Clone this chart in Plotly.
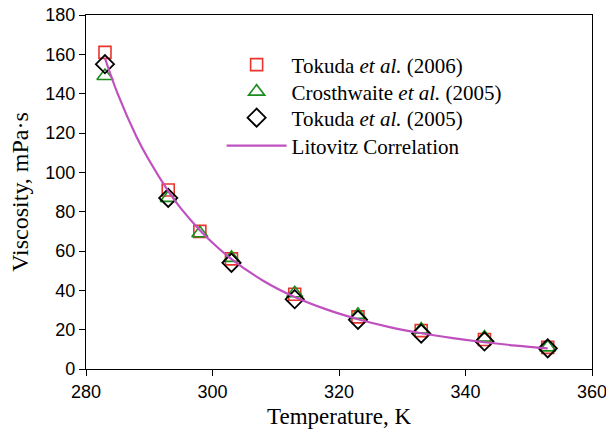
import plotly.graph_objects as go

# Temperatures (K)
T_tok06 = [283, 293, 298, 303, 313, 323, 333, 343, 353]
eta_tok06 = [161, 91, 70, 56, 38, 26.5, 19.5, 15, 11]

T_cros = [283, 293, 298, 303, 313, 323, 333, 343, 353]
eta_cros = [149, 87, 69, 56.5, 38.5, 27.5, 20, 16, 11]

T_tok05 = [283, 293, 303, 313, 323, 333, 343, 353]
eta_tok05 = [155, 87, 54, 35.5, 25, 18, 14, 10.5]

# Litovitz correlation curve
T_lit = [283, 285, 288, 290, 293, 295, 298, 300, 303, 308, 313, 318, 323, 328, 333, 338, 343, 348, 353]
eta_lit = [158, 140, 118, 106, 90.5, 81.7, 70.6, 64.2, 55.9, 44.9, 36.6, 30.3, 25.3, 21.3, 18.2, 15.7, 13.6, 11.9, 10.5]

x_ticks = [280, 300, 320, 340, 360]
y_ticks = [0, 20, 40, 60, 80, 100, 120, 140, 160, 180]

serif = "Liberation Serif, Times New Roman"
sans = "Liberation Sans, Arial"

fig = go.Figure()
fig.add_trace(go.Scatter(
    x=T_tok06, y=eta_tok06, mode="markers", name="Tokuda <i>et al.</i> (2006)", legend="legend2",
    marker=dict(symbol="square-open", size=12, color="#e8342c", line=dict(width=1.6))))
fig.add_trace(go.Scatter(
    x=T_cros, y=eta_cros, mode="markers", name="Crosthwaite <i>et al.</i> (2005)", legend="legend3",
    marker=dict(symbol="triangle-up-open", size=14, color="#1b8c1b", line=dict(width=1.6))))
fig.add_trace(go.Scatter(
    x=T_tok05, y=eta_tok05, mode="markers", name="Tokuda <i>et al.</i> (2005)", legend="legend4",
    marker=dict(symbol="diamond-open", size=14, color="black", line=dict(width=1.8))))
fig.add_trace(go.Scatter(
    x=T_lit, y=eta_lit, mode="lines", name="Litovitz Correlation", line_shape="spline", legend="legend5",
    line=dict(color="#c050c0", width=2.2)))

axis_common = dict(showline=True, linecolor="black", linewidth=1.2, mirror=True,
                   showgrid=False, zeroline=False, ticks="outside", ticklen=6, automargin=False,
                   tickcolor="black", tickfont=dict(family=sans, size=18, color="black"))

fig.update_xaxes(range=[280, 360], tickvals=x_ticks, ticklabeloverflow="allow",
                 title=dict(text="Temperature, K", font=dict(family=serif, size=23, color="black"), standoff=7),
                 **axis_common)
fig.update_yaxes(range=[0, 180], tickvals=y_ticks,
                 title=dict(text="Viscosity, mPa·s", font=dict(family=serif, size=24, color="black"), standoff=9),
                 **axis_common)

leg_common = dict(xanchor="left", yanchor="middle", bgcolor="rgba(0,0,0,0)",
                  font=dict(family=serif, size=21, color="black"), itemwidth=60)
x_leg = 0.268
fig.update_layout(
    width=606, height=431,
    margin=dict(l=86, r=14, t=15, b=62, autoexpand=False),
    paper_bgcolor="white", plot_bgcolor="white",
    legend2=dict(x=x_leg, y=(369 - 65) / 354, **leg_common),
    legend3=dict(x=x_leg, y=(369 - 92) / 354, **leg_common),
    legend4=dict(x=x_leg, y=(369 - 118) / 354, **leg_common),
    legend5=dict(x=x_leg, y=(369 - 146) / 354, **leg_common),
)

fig.write_html("out.html")
